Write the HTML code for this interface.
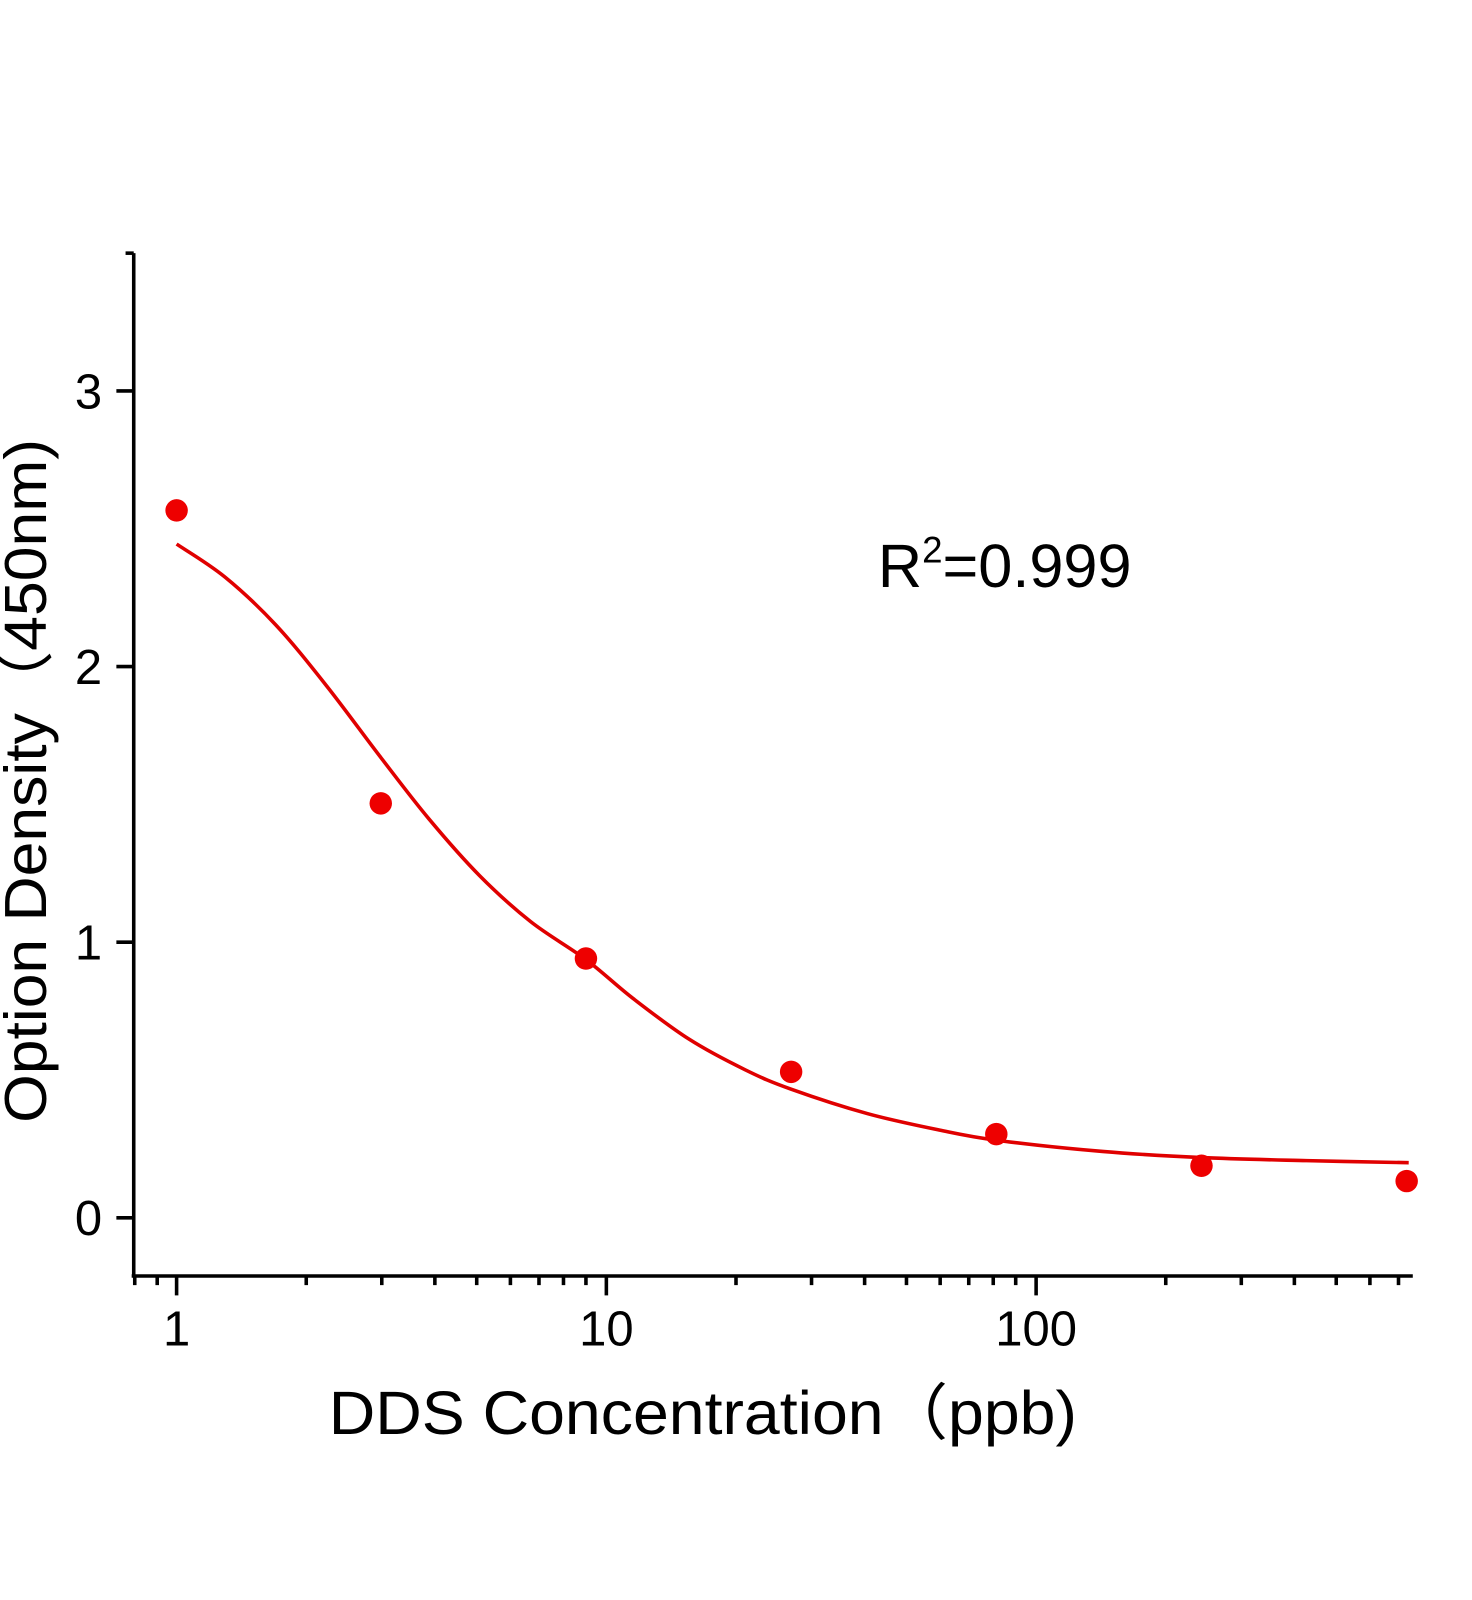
<!DOCTYPE html>
<html><head><style>html,body{margin:0;padding:0;background:#fff;width:1472px;height:1600px;overflow:hidden}</style></head>
<body>
<svg width="1472" height="1600" viewBox="0 0 1442 1567.4" xmlns="http://www.w3.org/2000/svg" font-family="Liberation Sans, DejaVu Sans, sans-serif">
<g stroke="#000" stroke-width="3.5" fill="none">
<line x1="131" y1="248" x2="131" y2="1251"/>
<line x1="129" y1="1250" x2="1384" y2="1250"/>
<line x1="114" y1="1193" x2="131" y2="1193"/>
<line x1="114" y1="923" x2="131" y2="923"/>
<line x1="114" y1="653" x2="131" y2="653"/>
<line x1="114" y1="383" x2="131" y2="383"/>
<line x1="123" y1="248" x2="131" y2="248"/>
<line x1="173" y1="1250" x2="173" y2="1269"/>
<line x1="594" y1="1250" x2="594" y2="1269"/>
<line x1="1015" y1="1250" x2="1015" y2="1269"/>
<path d="M132 1250v9M154 1250v9M300 1250v9M374 1250v9M426 1250v9M467 1250v9M500 1250v9M528 1250v9M552 1250v9M574 1250v9M721 1250v9M795 1250v9M847 1250v9M888 1250v9M921 1250v9M949 1250v9M973 1250v9M995 1250v9M1142 1250v9M1216 1250v9M1268 1250v9M1309 1250v9M1342 1250v9M1370 1250v9"/>
</g>
<g font-size="48" fill="#000" text-anchor="end">
<text x="100" y="1210">0</text><text x="100" y="940">1</text><text x="100" y="670">2</text><text x="100" y="400">3</text>
</g>
<g font-size="48" fill="#000" text-anchor="middle">
<text x="173" y="1318">1</text><text x="594" y="1318">10</text><text x="1015" y="1318">100</text>
</g>
<text x="322" y="1405" font-size="60" fill="#000" textLength="733" lengthAdjust="spacingAndGlyphs">DDS Concentration（ppb)</text>
<text transform="translate(45,765) rotate(-90)" font-size="58" fill="#000" text-anchor="middle" textLength="670" lengthAdjust="spacingAndGlyphs">Option Density（450nm)</text>
<text x="860" y="575" font-size="60" fill="#000">R<tspan dy="-24" font-size="36">2</tspan><tspan dy="24">=0.999</tspan></text>
<path id="curve" fill="none" stroke="#e00000" stroke-width="3.5" d=""/>
<g fill="#ee0000">
<circle cx="173" cy="500" r="11"/><circle cx="373" cy="787" r="11"/><circle cx="574" cy="939" r="11"/><circle cx="775" cy="1050" r="11"/><circle cx="976" cy="1111" r="11"/><circle cx="1177" cy="1142" r="11"/><circle cx="1378" cy="1157" r="11"/>
</g>
</svg>
<script>
var p=[[173,533],[220,565],[270,612],[320,672],[373,742],[420,802],[470,858],[520,903],[574,940],[620,978],[675,1018],[730,1048],[775,1067],[850,1091],[920,1107],[976,1117],[1080,1128],[1177,1134],[1280,1137],[1380,1139]];
var d="M"+p[0][0]+" "+p[0][1];
for(var i=0;i<p.length-1;i++){var p0=p[Math.max(i-1,0)],p1=p[i],p2=p[i+1],p3=p[Math.min(i+2,p.length-1)];
d+=" C"+(p1[0]+(p2[0]-p0[0])/6)+" "+(p1[1]+(p2[1]-p0[1])/6)+" "+(p2[0]-(p3[0]-p1[0])/6)+" "+(p2[1]-(p3[1]-p1[1])/6)+" "+p2[0]+" "+p2[1];}
document.getElementById("curve").setAttribute("d",d);
</script>
</body></html>
